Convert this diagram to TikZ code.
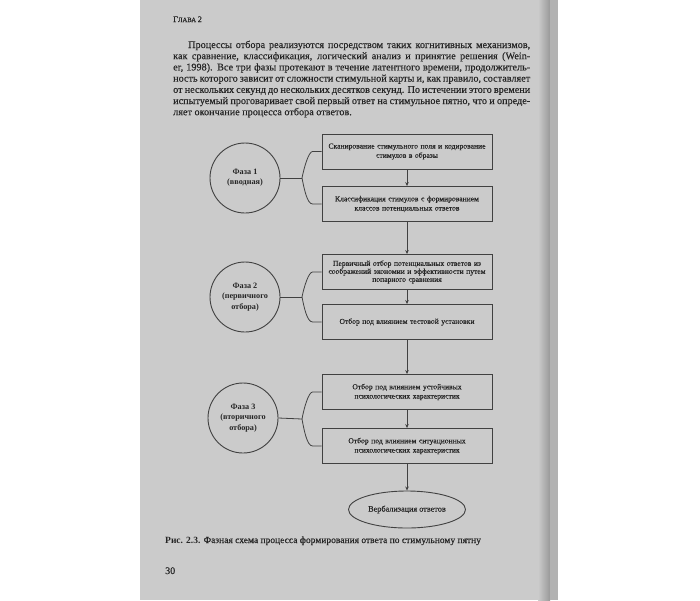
\documentclass[tikz,border=0pt]{standalone}
\usepackage{fontspec}
\setmainfont{Liberation Serif}
\newfontfamily\heavyserif[BoldFont={Liberation Serif},BoldFeatures={FakeBold=0.35}]{Liberation Serif}
\usetikzlibrary{arrows.meta,shapes.geometric,calc}
\definecolor{pagebg}{RGB}{203,203,203}
\definecolor{ink}{RGB}{38,38,38}
\definecolor{lineink}{RGB}{65,65,65}
\tikzset{
  txtline/.style={anchor=base west,inner sep=0pt,text=ink,font=\heavyserif\bfseries\fontsize{10.2}{11}\selectfont},
  stepbox/.style={draw=lineink,line width=0.9pt,minimum width=170pt,minimum height=35pt,inner sep=1pt,
    text width=168pt,align=center,text=ink,font=\heavyserif\bfseries\fontsize{7.6}{9.3}\selectfont},
  phase/.style={draw=lineink,line width=0.9pt,circle,minimum size=70pt,inner sep=0pt,align=center,
    text=ink,font=\bfseries\fontsize{8.2}{10.2}\selectfont},
  finalell/.style={draw=lineink,line width=0.9pt,ellipse,minimum width=117pt,minimum height=37pt,inner sep=0pt,
    text=ink,font=\heavyserif\bfseries\fontsize{8.2}{9}\selectfont},
  flow/.style={draw=lineink,line width=0.8pt,-{Stealth[length=4pt,width=3.5pt]}},
  brace/.style={draw=lineink,line width=0.8pt},
}
\begin{document}
\begin{tikzpicture}[x=1pt,y=-1pt]
% background and page
\fill[white] (0,0) rectangle (700,600);
\useasboundingbox (0,0) rectangle (700,600);
\fill[pagebg] (140,0) rectangle (548,600);
\shade[left color=pagebg,right color=black!40] (538,0) rectangle (550,600);
\fill[black!30] (550,0) rectangle (558,600);

% header
\node[anchor=base west,inner sep=0pt,text=ink,font=\heavyserif\bfseries] (hdr) at (173,22)
  {\fontsize{8.4}{10}\selectfont Г\fontsize{6.6}{10}\selectfont ЛАВА \fontsize{8.4}{10}\selectfont 2};

% paragraph
\node[txtline] (l1) at (188,48) {\makebox[342pt][s]{Процессы отбора реализуются посредством таких когнитивных механизмов,}};
\node[txtline] (l2) at (173,59.2) {\makebox[357pt][s]{как сравнение, классификация, логический анализ и принятие решения (Wein-}};
\node[txtline] (l3) at (173,70.4) {\makebox[357pt][s]{er, 1998). Все три фазы протекают в течение латентного времени, продолжитель-}};
\node[txtline] (l4) at (173,81.6) {\makebox[357pt][s]{ность которого зависит от сложности стимульной карты и, как правило, составляет}};
\node[txtline] (l5) at (173,92.8) {\makebox[357pt][s]{от нескольких секунд до нескольких десятков секунд. По истечении этого времени}};
\node[txtline] (l6) at (173,104) {\makebox[357pt][s]{испытуемый проговаривает свой первый ответ на стимульное пятно, что и опреде-}};
\node[txtline] (l7) at (173,115.2) {ляет окончание процесса отбора ответов.};

% boxes
\node[stepbox] (b1) at (407,151.5) {Сканирование стимульного поля и кодирование\\стимулов в образы};
\node[stepbox] (b2) at (407,204) {Классификация стимулов с формированием\\классов потенциальных ответов};
\node[stepbox,font=\heavyserif\bfseries\fontsize{7.6}{8}\selectfont] (b3) at (407,272) {Первичный отбор потенциальных ответов из\\соображений экономии и эффективности путем\\попарного сравнения};
\node[stepbox] (b4) at (407,322) {Отбор под влиянием тестовой установки};
\node[stepbox] (b5) at (407,392) {Отбор под влиянием устойчивых\\психологических характеристик};
\node[stepbox] (b6) at (407,446) {Отбор под влиянием ситуационных\\психологических характеристик};
\node[finalell] (e) at (407,509.5) {Вербализация ответов};

% phases
\node[phase] (c1) at (245,178) {Фаза 1\\(вводная)};
\node[phase] (c2) at (245,297) {Фаза 2\\(первичного\\отбора)};
\node[phase] (c3) at (243,418) {Фаза 3\\(вторичного\\отбора)};

% flow arrows
\draw[flow] (b1) -- (b2);
\draw[flow] (b2) -- (b3);
\draw[flow] (b3) -- (b4);
\draw[flow] (b4) -- (b5);
\draw[flow] (b5) -- (b6);
\draw[flow] (b6) -- (e);

% braces
\coordinate (t1) at (302,178);
\coordinate (t2) at (302,297);
\coordinate (t3) at (302,419);
\draw[brace] (c1.east) -- (t1);
\draw[brace] (b1.west) -- ++(-9,0) .. controls +(-4,0) and (304,168) .. (t1)
  .. controls (304,188) and (307,204) .. ($(b2.west)+(-9,0)$) -- (b2.west);
\draw[brace] (c2.east) -- (t2);
\draw[brace] (b3.west) -- ++(-9,0) .. controls +(-4,0) and (304,287) .. (t2)
  .. controls (304,307) and (307,322) .. ($(b4.west)+(-9,0)$) -- (b4.west);
\draw[brace] (c3.east) -- (t3);
\draw[brace] (b5.west) -- ++(-9,0) .. controls +(-4,0) and (304,408) .. (t3)
  .. controls (304,430) and (307,446) .. ($(b6.west)+(-9,0)$) -- (b6.west);

% caption
\node[anchor=base west,inner sep=0pt,text=ink,font=\heavyserif\bfseries\fontsize{9.5}{11}\selectfont] (cap) at (165,543)
  {{\setmainfont{Liberation Serif}\normalfont\fontsize{9.5}{11}\selectfont\bfseries Рис. 2.3.} Фазная схема процесса формирования ответа по стимульному пятну};
\node[anchor=base west,inner sep=0pt,text=ink,font=\heavyserif\bfseries\fontsize{10}{11}\selectfont] (pg) at (165,574) {30};
\end{tikzpicture}
\end{document}
